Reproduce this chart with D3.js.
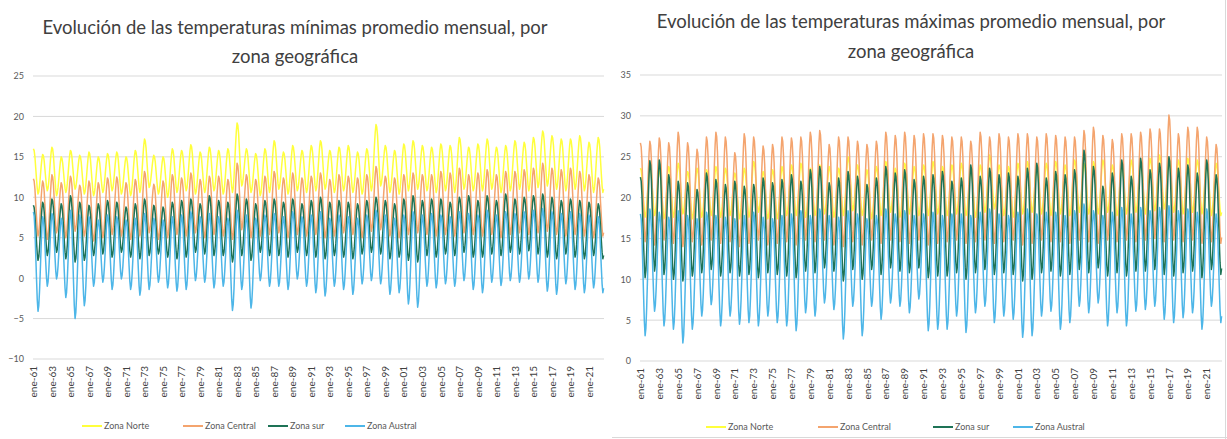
<!DOCTYPE html>
<html><head><meta charset="utf-8">
<script src="https://cdn.jsdelivr.net/npm/d3@7"></script>
<style>
body{margin:0;background:#fff;}
svg{display:block;font-family:Lato,"Open Sans",sans-serif;}
</style></head><body>
<svg id="c" width="1227" height="439"></svg>
<script>
// ---------- data ----------
const firstYear = 1961;
const nMonths = 740; // ene-61 .. ago-22
const monthNames = ["ene","feb","mar","abr","may","jun","jul","ago","sep","oct","nov","dic"];
const seriesNames = ["Zona Norte","Zona Central","Zona sur","Zona Austral"];
const seriesColors = ["#FFFF3C","#F4A46E","#1E7356","#4DB6E8"];
// seasonal shape Jan..Dec (1 = summer peak, 0 = winter trough)
const seasonShape = [1.0,0.96,0.82,0.58,0.34,0.12,0.0,0.06,0.22,0.44,0.68,0.88];

// Minimum temperatures: annual summer peaks / winter troughs 1961..2022
const minNortePeak = [16.0,15.3,16.2,15.0,15.8,15.2,15.6,15.0,15.4,15.6,15.0,15.8,17.2,15.2,15.0,16.0,15.8,16.5,15.6,16.2,15.8,16.0,19.2,16.0,15.4,16.0,17.0,15.6,16.4,15.8,16.4,17.0,15.8,16.2,16.4,15.6,16.0,19.0,16.4,15.8,16.6,17.0,16.4,16.2,16.6,16.4,17.4,16.2,16.6,17.2,16.2,16.4,17.0,16.8,17.4,18.2,17.6,17.2,17.2,17.6,16.8,17.4];
const minNorteLow = [10.4,10.8,10.2,10.6,11.0,10.4,10.2,10.6,10.8,10.4,10.2,10.6,11.2,10.4,10.0,10.6,10.8,10.4,10.6,10.8,10.4,10.6,11.4,10.6,10.2,10.6,11.0,10.4,10.8,10.6,10.8,11.0,10.6,10.8,10.6,10.4,10.8,11.4,10.6,10.4,10.8,11.0,10.8,10.6,10.8,10.6,11.0,10.8,10.8,11.0,10.6,10.8,11.0,10.8,11.2,11.4,11.0,10.8,11.0,10.8,10.6,10.6];
const minCentralPeak = [12.3,12.0,12.8,11.8,12.6,11.5,12.0,11.8,12.4,12.5,11.8,12.2,13.2,11.6,12.0,12.8,12.4,13.0,12.2,12.6,12.6,12.2,14.2,12.8,12.2,12.6,13.2,12.4,13.0,12.4,12.6,13.0,12.2,12.8,12.6,12.4,12.8,13.8,12.6,12.4,12.8,13.0,12.8,12.8,13.2,13.0,13.6,12.8,13.0,13.4,12.8,13.2,13.2,13.4,13.6,14.2,13.6,13.4,13.6,13.2,12.8,12.4];
const minCentralLow = [5.2,4.8,5.6,5.0,5.8,5.2,4.6,5.0,5.4,5.2,4.8,5.2,5.6,4.8,5.0,5.4,5.2,5.6,5.0,5.4,5.2,4.8,6.0,5.0,5.2,5.4,5.6,5.0,5.4,5.2,5.4,5.0,5.2,5.6,5.4,5.0,5.8,6.0,5.2,5.0,5.4,5.6,5.4,5.2,5.4,5.2,5.6,5.4,5.2,5.4,5.0,5.4,5.6,5.4,5.6,5.8,5.4,5.2,5.4,5.2,5.0,5.2];
const minSurPeak = [9.0,9.4,9.8,9.2,10.2,9.4,9.0,9.2,9.6,9.4,8.8,9.2,9.8,9.0,8.8,9.4,9.6,9.8,9.2,10.2,9.6,9.4,10.4,9.8,9.2,9.6,9.8,9.4,9.8,9.2,9.6,10.0,9.4,9.6,9.4,9.2,9.6,10.0,9.6,9.2,9.8,10.2,9.6,9.8,9.8,9.4,10.0,10.2,9.6,10.2,9.6,10.4,9.8,10.0,10.2,10.4,10.0,9.6,9.8,9.6,9.4,9.2];
const minSurLow = [2.2,2.8,3.2,2.4,2.0,2.2,2.8,3.0,2.6,3.2,2.6,2.4,2.8,3.0,2.6,2.4,2.6,3.2,3.0,2.8,2.8,2.0,2.8,2.2,3.2,2.8,2.8,2.6,3.2,2.8,2.6,2.4,2.8,2.6,2.4,3.0,3.2,3.0,2.4,2.6,2.2,2.0,2.8,2.6,3.0,2.8,3.2,2.6,2.6,3.0,2.8,3.2,3.0,3.4,3.0,2.6,2.4,3.0,2.6,2.4,2.8,2.4];
const minAustralPeak = [8.2,7.6,8.0,7.4,8.4,7.8,7.6,7.2,7.8,7.6,7.2,7.4,8.0,7.4,7.2,7.6,7.8,8.2,7.6,8.0,7.6,7.4,8.4,7.8,7.4,7.8,8.0,7.6,8.2,7.6,7.8,8.2,7.4,7.8,7.6,7.4,7.8,8.4,7.8,7.4,7.8,8.2,7.8,8.0,7.8,7.6,8.2,8.0,7.8,8.4,7.8,8.2,8.0,8.2,8.4,8.6,8.2,8.0,8.2,8.0,7.8,7.6];
const minAustralLow = [-4.1,-1.0,-0.1,-2.4,-5.0,-3.4,-1.0,-0.5,-1.4,-0.1,-1.4,-2.1,-1.4,-0.5,-1.2,-1.6,-1.4,-0.3,-0.5,-1.2,-1.0,-4.0,-1.4,-3.7,-0.3,-1.0,-1.0,-1.4,-0.1,-1.0,-1.8,-2.2,-1.0,-1.4,-2.0,-0.7,-0.3,-0.7,-2.0,-1.8,-3.2,-3.6,-1.0,-1.2,-0.7,-1.0,-0.3,-1.4,-1.8,-0.5,-0.9,-0.3,-0.5,-0.1,-0.5,-1.6,-2.0,-0.7,-1.4,-1.8,-1.2,-1.8];

// Maximum temperatures: annual summer peaks / winter troughs 1961..2022
const maxNortePeak = [23.6,24.0,23.4,23.8,24.2,23.2,23.6,23.4,23.8,23.6,23.0,23.6,24.4,23.2,23.4,23.8,24.0,24.2,23.6,24.0,23.8,23.6,25.0,24.0,23.4,23.8,24.4,23.6,24.2,23.8,24.0,24.4,23.8,24.0,24.2,23.6,24.0,25.2,24.0,23.8,24.2,24.4,24.0,24.2,24.4,24.0,24.6,24.2,24.4,24.6,24.0,24.2,24.6,24.4,24.8,25.2,24.8,24.6,24.8,24.6,24.4,24.2];
const maxNorteLow = [17.6,17.8,17.4,17.6,18.0,17.4,17.6,17.8,17.6,17.8,17.4,17.6,18.2,17.4,17.4,17.8,17.8,17.6,17.8,18.0,17.6,17.8,18.4,17.8,17.4,17.8,18.2,17.6,18.0,17.8,17.8,18.0,17.8,18.0,17.8,17.6,18.2,18.6,17.8,17.6,18.0,18.2,18.0,17.8,18.0,17.8,18.2,18.0,18.0,18.2,17.8,18.0,18.2,18.0,18.4,18.6,18.2,18.0,18.2,18.0,17.8,17.8];
const maxCentralPeak = [26.7,26.9,27.3,26.7,28.0,26.7,25.9,27.4,28.0,27.4,25.5,27.8,27.4,26.3,26.5,27.4,27.3,27.4,28.0,28.2,26.5,27.4,27.4,26.9,26.5,26.9,28.0,27.6,28.0,27.6,27.8,27.8,27.6,27.4,27.4,26.9,28.0,27.4,27.8,27.4,27.8,27.8,27.4,27.8,27.6,27.4,27.4,28.2,28.6,27.6,27.1,27.8,27.8,28.0,28.4,28.4,30.1,27.8,28.6,28.6,27.4,26.5];
const maxCentralLow = [14.6,14.2,14.8,14.4,14.0,14.6,14.2,14.8,14.4,14.6,14.0,14.4,14.8,14.2,14.4,14.6,14.2,14.8,14.6,14.8,14.2,14.0,14.6,14.2,14.8,14.4,14.8,14.6,14.4,14.8,14.2,14.4,14.6,14.8,14.4,14.6,14.8,14.4,14.6,14.8,14.2,14.4,14.8,14.6,14.6,14.4,14.8,14.6,14.4,14.8,14.6,14.8,14.6,14.8,15.0,14.6,14.8,14.6,14.8,14.4,14.6,14.4];
const maxSurPeak = [22.5,24.5,24.6,22.8,22.0,21.8,21.0,23.0,22.2,21.6,22.0,21.4,21.6,22.4,21.8,22.2,22.8,22.0,23.4,23.8,21.8,22.4,23.2,22.6,21.6,22.4,23.8,23.0,23.4,22.2,22.6,22.8,23.2,22.0,22.4,24.0,22.6,23.6,22.8,23.0,22.6,23.6,24.2,22.4,23.2,22.8,23.4,25.8,23.8,21.4,23.0,24.6,22.6,24.8,23.4,24.2,25.0,23.6,24.0,23.0,24.6,22.8];
const maxSurLow = [10.2,11.0,10.6,10.0,9.8,10.4,10.8,11.2,10.4,10.8,10.4,10.6,10.2,10.8,10.6,10.4,10.2,11.0,10.8,11.4,11.0,9.8,11.2,10.0,11.2,10.6,11.4,11.0,10.8,11.4,10.2,10.4,10.4,10.8,10.0,10.8,11.2,10.6,10.8,10.6,9.8,10.0,10.8,11.0,10.4,10.6,11.2,10.8,11.4,10.4,10.8,10.4,11.0,11.0,11.2,10.6,10.4,10.8,11.0,10.2,11.2,10.6];
const maxAustralPeak = [18.0,18.6,18.2,17.6,18.4,17.8,17.4,18.2,17.8,17.6,17.4,17.8,18.2,17.6,17.4,17.8,18.0,18.4,17.8,18.6,17.8,17.6,18.4,18.0,17.4,17.8,18.6,18.0,18.4,17.8,18.0,18.2,17.8,18.0,18.0,17.8,18.2,18.6,18.0,17.8,18.2,18.6,18.0,18.2,18.2,17.8,18.4,19.2,18.4,17.8,18.2,18.8,18.0,18.8,18.4,18.8,19.0,18.4,18.6,18.2,18.6,18.0];
const maxAustralLow = [3.1,6.1,4.3,3.9,2.2,3.9,5.5,6.9,4.3,5.5,4.5,4.7,4.3,5.5,4.7,4.3,3.7,5.9,5.5,7.1,6.3,2.7,6.7,3.1,6.7,5.1,7.1,6.7,5.9,7.6,3.7,3.9,3.9,5.5,3.5,5.9,6.7,4.7,5.5,5.1,2.9,3.1,5.5,6.1,3.9,4.7,6.7,5.9,7.1,4.3,5.9,4.3,6.1,6.3,6.7,5.1,4.7,5.3,5.9,3.9,6.7,4.7];

// ---------- build monthly series from annual peaks/troughs ----------
function monthly(peaks, lows){
  const out = [];
  for(let i=0;i<nMonths;i++){
    const y = Math.floor(i/12), m = i%12;
    const p = m<=6 ? peaks[y] : (peaks[y+1]!==undefined ? peaks[y+1] : peaks[y]);
    const lo = lows[y];
    out.push(lo + (p-lo)*seasonShape[m]);
  }
  return out;
}

const charts = [
  {title:["Evolución de las temperaturas mínimas promedio mensual, por","zona geográfica"],
   titleX:295, titleY:[34,63],
   x0:33, x1:604, yTop:76, yBot:359, domain:[-10,25],
   yLabelX:24,
   legendY:426,
   legend:[[82,104],[183,205],[268,290],[345,367]],
   series:[monthly(minNortePeak,minNorteLow),monthly(minCentralPeak,minCentralLow),monthly(minSurPeak,minSurLow),monthly(minAustralPeak,minAustralLow)]},
  {title:["Evolución de las temperaturas máximas promedio mensual, por","zona geográfica"],
   titleX:911, titleY:[28,58],
   x0:640, x1:1222, yTop:75, yBot:361, domain:[0,35],
   yLabelX:631,
   legendY:427,
   legend:[[706,728],[818,840],[933,955],[1013,1035]],
   series:[monthly(maxNortePeak,maxNorteLow),monthly(maxCentralPeak,maxCentralLow),monthly(maxSurPeak,maxSurLow),monthly(maxAustralPeak,maxAustralLow)]}
];

const svg = d3.select("#c");
svg.append("rect").attr("width",1227).attr("height",439).attr("fill","#fff");

const tickIdx = d3.range(0, nMonths, 24);
const labelOf = i => monthNames[i%12] + "-" + String((firstYear + Math.floor(i/12)) % 100).padStart(2,"0");

charts.forEach(c=>{
  const g = svg.append("g");
  const x = d3.scaleLinear().domain([-0.5, nMonths-0.5]).range([c.x0, c.x1]);
  const y = d3.scaleLinear().domain(c.domain).range([c.yBot, c.yTop]);
  const yt = d3.range(c.domain[0], c.domain[1]+0.01, 5);

  // gridlines
  g.append("g").selectAll("line").data(yt).join("line")
    .attr("x1",c.x0).attr("x2",c.x1).attr("y1",d=>y(d)).attr("y2",d=>y(d))
    .attr("stroke","#d9d9d9").attr("stroke-width",1);

  // y axis labels
  const ya = g.append("g").attr("transform",`translate(${c.yLabelX},0)`)
    .call(d3.axisLeft(y).tickValues(yt).tickSize(0).tickPadding(0));
  ya.select(".domain").remove();
  ya.selectAll("text").attr("fill","#595959").style("font-size","9px").style("font-family","Lato, sans-serif");

  // lines
  const line = d3.line().x((d,i)=>x(i)).y(d=>y(d));
  c.series.forEach((s,k)=>{
    g.append("path").datum(s).attr("d",line).attr("fill","none")
      .attr("stroke",seriesColors[k]).attr("stroke-width",1.5).attr("stroke-linejoin","round");
  });

  // x axis labels
  const xa = g.append("g").attr("transform",`translate(0,${c.yBot+7})`)
    .call(d3.axisBottom(x).tickValues(tickIdx).tickFormat(labelOf).tickSize(0).tickPadding(0));
  xa.select(".domain").remove();
  xa.selectAll("text").attr("fill","#404040").style("font-size","10px").style("font-family","Lato, sans-serif")
    .attr("text-anchor","end").attr("dy","0.32em").attr("dx","0")
    .attr("transform","rotate(-90)").attr("y",0).attr("x",0);

  // title
  g.append("g").selectAll("text").data(c.title).join("text")
    .attr("x",c.titleX).attr("y",(d,i)=>c.titleY[i]).attr("text-anchor","middle")
    .attr("fill","#404040").style("font-size","18.5px").text(d=>d);

  // legend
  const lg = g.append("g");
  seriesNames.forEach((n,k)=>{
    const [lx,tx] = c.legend[k];
    lg.append("line").attr("x1",lx).attr("x2",lx+20).attr("y1",c.legendY).attr("y2",c.legendY)
      .attr("stroke",seriesColors[k]).attr("stroke-width",2);
    lg.append("text").attr("x",tx).attr("y",c.legendY).attr("dy","0.35em")
      .attr("fill","#595959").style("font-size","9px").text(n);
  });
});

// right chart frame edges
svg.append("line").attr("x1",1225.5).attr("x2",1225.5).attr("y1",0).attr("y2",439).attr("stroke","#d9d9d9");
svg.append("line").attr("x1",612).attr("x2",1227).attr("y1",437.5).attr("y2",437.5).attr("stroke","#d9d9d9");
</script></body></html>
